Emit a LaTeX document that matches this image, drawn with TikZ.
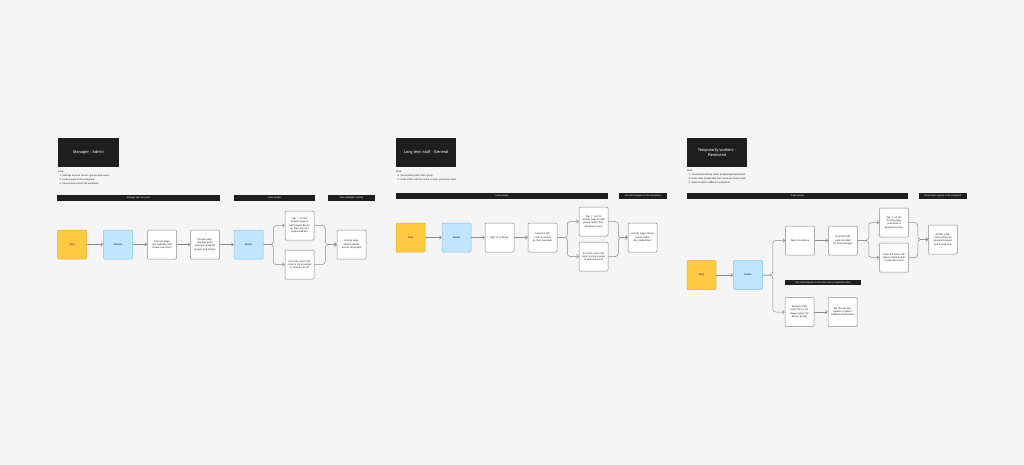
\documentclass[tikz,border=0pt]{standalone}
\usepackage{fontspec}
\setmainfont{Liberation Sans}
\usetikzlibrary{arrows.meta}
\definecolor{canvas}{HTML}{F5F5F5}
\definecolor{ink}{HTML}{1E1E1E}
\definecolor{sticky}{HTML}{FFC943}
\definecolor{stickyline}{HTML}{E8AE2A}
\definecolor{sky}{HTML}{C2E5FF}
\definecolor{skyline}{HTML}{7CC0F0}
\definecolor{edge}{HTML}{8A8A8A}

\begin{document}
\begin{tikzpicture}[x=1pt, y=-1pt,
	box/.style={draw=edge, fill=white, line width=0.5pt, rounded corners=1pt, minimum size=29pt, inner sep=0pt, text width=24pt, align=center, font=\fontsize{2.5}{3.3}\selectfont, text=ink},
	startbox/.style={box, draw=stickyline, fill=sticky},
	appbox/.style={box, draw=skyline, fill=sky},
	title/.style={fill=ink, text=white, inner sep=0pt, minimum height=29pt, align=center, font=\fontsize{4}{5.2}\selectfont},
	bar/.style={fill=ink, text=white, inner sep=0pt, minimum height=6pt, font=\fontsize{2.3}{3}\selectfont},
	goal/.style={anchor=north west, inner sep=0pt, align=left, text=ink, font=\fontsize{2.4}{4}\selectfont},
	link/.style={draw=edge, line width=0.5pt, -{Straight Barb[length=2pt,width=3.5pt]}},
	fork/.style={link, rounded corners=3pt}]

		\fill[canvas] (0,0) rectangle (1024,465);

		% manager - admin
		\path (88.5,152.5) node[title, minimum width=61pt] (titleA) {Manager - Admin}
		(58,171) node[goal] (goalA) {Goal:\\\hspace{1.5pt}1. Manage account access, groups and events\\\hspace{1.5pt}2. Invite people to the workplace\\\hspace{1.5pt}3. View activity across the workplace}
		(138.5,198) node[bar, minimum width=163pt] (barA1) {Manage user accounts}
		(274.5,198) node[bar, minimum width=81pt] (barA2) {Invite people}
		(351.5,198) node[bar, minimum width=47pt] (barA3) {View workplace activity};

		\path (72,244.5) node[startbox] (startA) {Start}
		(118,244.5) node[appbox] (webA) {Website}
		(162,244.5) node[box] (acctA) {Account page (set defaults) and create new event}
		(205,244.5) node[box] (peopleA) {People page: manage users and their assigned groups and scopes}
		(248.5,244.5) node[appbox] (mobileA) {Mobile}
		(299.5,225.5) node[box] (tapA) {Tap `+' on the Activity page to add people based on their role and responsibilities}
		(299.5,264.5) node[box] (scanA) {Scan the event QR code to invite people to view the event}
		(351.5,244.5) node[box] (actA) {Activity page shows activity across all groups};

		\draw[link] (startA) -- (webA);
		\draw[link] (webA) -- (acctA);
		\draw[link] (acctA) -- (peopleA);
		\draw[link] (peopleA) -- (mobileA);
		\draw[fork] (mobileA.east) -- ++(10,0) |- (tapA.west);
		\draw[fork] (mobileA.east) -- ++(10,0) |- (scanA.west);
		\draw[fork] (tapA.east) -- ++(11,0) |- (actA.west);
		\draw[fork] (scanA.east) -- ++(11,0) |- (actA.west);

		% long term staff - general
		\path (426,152.5) node[title, minimum width=60pt] (titleB) {Long term staff - General}
		(396,171) node[goal] (goalB) {Goal:\\\hspace{1.5pt}1. View activity within their group\\\hspace{1.5pt}2. Invite others with the same or lower permission level}
		(502,196) node[bar, minimum width=212pt] (barB1) {Invite people}
		(643,196) node[bar, minimum width=48pt] (barB2) {See what happens in the workplace};

		\path (410.5,237.5) node[startbox] (startB) {Start}
		(456.5,237.5) node[appbox] (mobileB) {Mobile}
		(499.5,237.5) node[box] (signB) {Sign in to Envoy}
		(542.5,237.5) node[box] (qrB) {Scan the QR code provided by their manager}
		(593.5,221.5) node[box] (tapB) {Tap `+' on the Activity page to add people within their assigned scope}
		(593.5,256.5) node[box] (scanB) {Scan the event QR code to invite people to view the event}
		(642.5,237.5) node[box] (actB) {Activity page shows events within their department};

		\draw[link] (startB) -- (mobileB);
		\draw[link] (mobileB) -- (signB);
		\draw[link] (signB) -- (qrB);
		\draw[fork] (qrB.east) -- ++(10,0) |- (tapB.west);
		\draw[fork] (qrB.east) -- ++(10,0) |- (scanB.west);
		\draw[fork] (tapB.east) -- ++(10,0) |- (actB.west);
		\draw[fork] (scanB.east) -- ++(10,0) |- (actB.west);

		% temporary workers - restricted
		\path (717,152.5) node[title, minimum width=60pt] (titleC) {Temporarily workers -\\Restricted}
		(687,170) node[goal] (goalC) {Goal:\\\hspace{1.5pt}1. View limited activity within assigned groups/events\\\hspace{1.5pt}2. Invite other people with their same permission level\\\hspace{1.5pt}3. Switch between different workplaces}
		(797.5,195.5) node[bar, minimum width=221pt] (barC1) {Invite people}
		(943,195.5) node[bar, minimum width=48pt] (barC2) {Remember support in the workplace}
		(823,282.5) node[bar, minimum width=76pt, minimum height=5pt] (barC3) {See what happens in the other Envoy Experience flow};

		\path (701.5,275) node[startbox] (startC) {Start}
		(748,275) node[appbox] (mobileC) {Mobile}
		(800,240.5) node[box] (signC) {Sign in to Envoy}
		(843,240.5) node[box] (qrC) {Scan the QR code provided by their manager}
		(894,222.5) node[box] (tapC) {Tap `+' on the Activity page (restricted to assigned scope)}
		(894,257.5) node[box] (scanC) {Scan the event QR code to invite people to view the event}
		(943,239.5) node[box] (actC) {Activity page: View activity for assigned groups and events only}
		(799.5,312) node[box] (inviteC) {Receive team invite from a colleague (joins the Envoy group)}
		(842.5,312) node[box] (switchC) {Tap the top navigation to switch between workplaces};

		\draw[link] (startC) -- (mobileC);
		\draw[fork] (mobileC.east) -- ++(10,0) |- (signC.west);
		\draw[fork] (mobileC.east) -- ++(10,0) |- (inviteC.west);
		\draw[link] (signC) -- (qrC);
		\draw[fork] (qrC.east) -- ++(11,0) |- (tapC.west);
		\draw[fork] (qrC.east) -- ++(11,0) |- (scanC.west);
		\draw[fork] (tapC.east) -- ++(9,0) |- (actC.west);
		\draw[fork] (scanC.east) -- ++(9,0) |- (actC.west);
		\draw[link] (inviteC) -- (switchC);

	\end{tikzpicture}
\end{document}
